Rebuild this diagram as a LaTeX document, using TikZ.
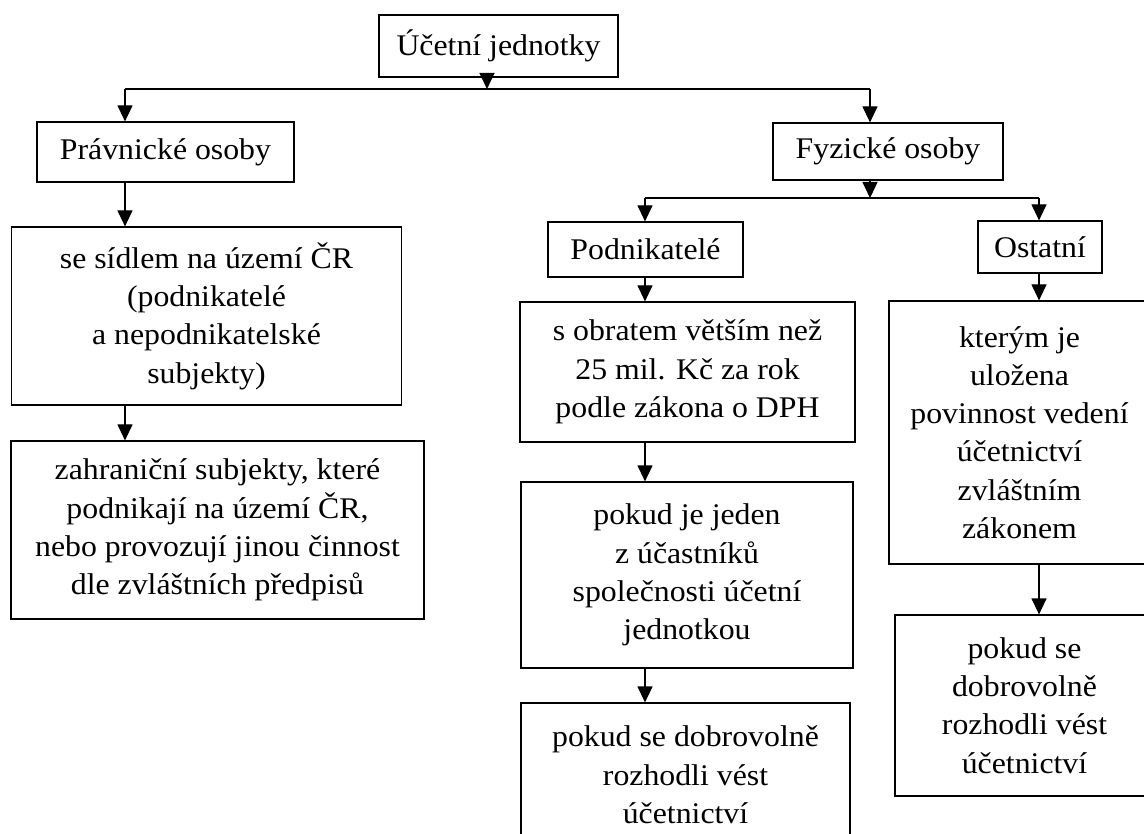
\documentclass[tikz,border=0pt]{standalone}
\usepackage{fontspec}
\setmainfont{Liberation Serif}[FakeStretch=1.06]
\usepackage{tikz}
\usetikzlibrary{arrows.meta}

\begin{document}
\begin{tikzpicture}[x=1pt,y=-1pt,
  box/.style={draw=black, line width=1.2pt, inner sep=0pt, align=center,
    font=\fontsize{30}{38.3}\selectfont},
  arr/.style={black, line width=1.2pt, -{Triangle[length=16pt,width=15pt]}},
  bus/.style={black, line width=2.6pt}]
\useasboundingbox (0,0) rectangle (1144,834);

% boxes
\node[box, minimum width=239pt, minimum height=62pt] (ucet) at (498.5,46) {Účetní jednotky};
\node[box, minimum width=257pt, minimum height=60pt] (prav) at (165.5,152) {Právnické osoby};
\node[box, minimum width=390pt, minimum height=178pt] (sidlo) at (206.5,316) {se sídlem na území ČR\\(podnikatelé\\a nepodnikatelské\\subjekty)};
\node[box, minimum width=413pt, minimum height=178pt] (zahr) at (217.5,530) {zahraniční subjekty, které\\podnikají na území ČR,\\nebo provozují jinou činnost\\dle zvláštních předpisů};
\node[box, minimum width=230pt, minimum height=57pt] (fyz) at (888,151.5) {Fyzické osoby};
\node[box, minimum width=195pt, minimum height=55pt] (podn) at (645.5,249.5) {Podnikatelé};
\node[box, minimum width=124pt, minimum height=52pt] (ost) at (1040,247) {Ostatní};
\node[box, minimum width=335pt, minimum height=140pt] (obrat) at (687.5,372) {s obratem větším než\\25 mil. Kč za rok\\podle zákona o DPH};
\node[box, minimum width=332pt, minimum height=186pt] (jeden) at (687,575) {pokud je jeden\\z účastníků\\společnosti účetní\\jednotkou};
\node[box, minimum width=329pt, minimum height=144pt] (dobr) at (685.5,775) {pokud se dobrovolně\\rozhodli vést\\účetnictví};
\node[box, minimum width=261pt, minimum height=263pt] (ulozena) at (1019.5,432.5) {kterým je\\uložena\\povinnost vedení\\účetnictví\\zvláštním\\zákonem};
\node[box, minimum width=259pt, minimum height=181pt] (dobr2) at (1024.5,705.5) {pokud se\\dobrovolně\\rozhodli vést\\účetnictví};

% branching points
\coordinate (b1) at (487,89);
\coordinate (b1l) at (125,89);
\coordinate (b1r) at (870,89);
\coordinate (b2) at (870,198);
\coordinate (b2l) at (645,198);
\coordinate (b2r) at (1039,198);

% left part
\draw[bus] (b1l) -- (b1r);
\draw[arr] (b1 |- ucet.south) -- (b1);
\draw[arr] (b1l) -- (b1l |- prav.north);
\draw[arr] (b1r) -- (b1r |- fyz.north);
\draw[arr] (b1l |- prav.south) -- (b1l |- sidlo.north);
\draw[arr] (b1l |- sidlo.south) -- (b1l |- zahr.north);

% right part
\draw[bus] (b2l) -- (b2r);
\draw[arr] (b2 |- fyz.south) -- (b2);
\draw[arr] (b2l) -- (b2l |- podn.north);
\draw[arr] (b2r) -- (b2r |- ost.north);
\draw[arr] (b2l |- podn.south) -- (b2l |- obrat.north);
\draw[arr] (b2l |- obrat.south) -- (b2l |- jeden.north);
\draw[arr] (b2l |- jeden.south) -- (b2l |- dobr.north);
\draw[arr] (b2r |- ost.south) -- (b2r |- ulozena.north);
\draw[arr] (b2r |- ulozena.south) -- (b2r |- dobr2.north);
\end{tikzpicture}
\end{document}
